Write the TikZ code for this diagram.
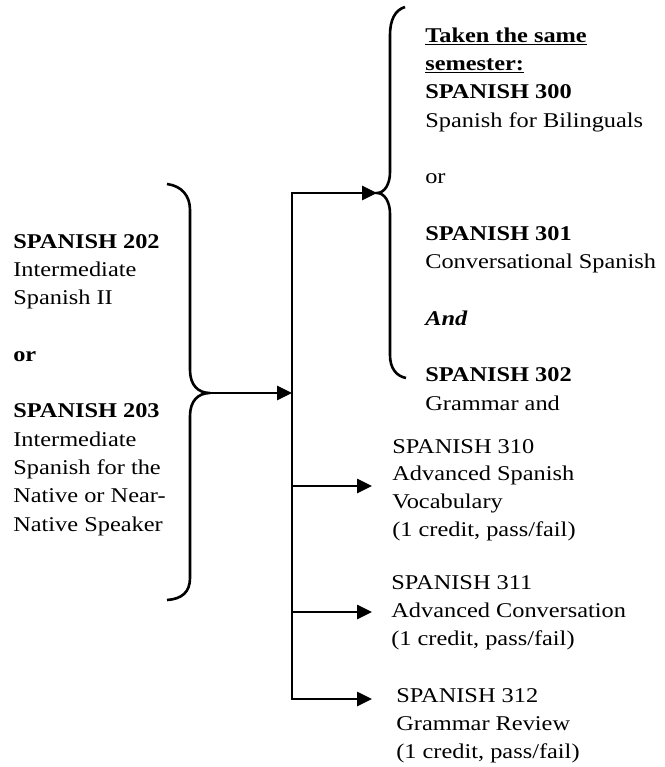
\documentclass[tikz,border=0pt]{standalone}
\usepackage{fontspec}
\setmainfont{Liberation Serif}[FakeStretch=1.16]
\usetikzlibrary{arrows.meta}
\begin{document}
\begin{tikzpicture}
[x=1pt,y=-1pt,line width=2.6pt,
 every node/.style={inner sep=0pt,anchor=base west,align=left},
 big/.style={font=\fontsize{21}{28.3}\selectfont},
 small/.style={font=\fontsize{21}{27.6}\selectfont},
 tip/.style={-{Triangle[length=15pt,width=14pt]}},
 tips/.style={{Triangle[length=15pt,width=14pt]}-{Triangle[length=15pt,width=14pt]}}]
\useasboundingbox (0,0) rectangle (664,767);
% course texts (placed by the baseline of their last line)
\node[big] (inter) at (12,531) {\textbf{SPANISH 202}\\Intermediate\\Spanish II\\[28.3pt]
	\textbf{or}\\[28.3pt]
	\textbf{SPANISH 203}\\Intermediate\\Spanish for the\\Native or Near-\\Native Speaker};
\node[big] (same) at (424,410) {\textbf{\underline{Taken the same}}\\\textbf{\underline{semester:}}\\
	\textbf{SPANISH 300}\\Spanish for Bilinguals\\[28.3pt]
	or\\[28.3pt]
	\textbf{SPANISH 301}\\Conversational Spanish\\[28.3pt]
	\textbf{\textit{And}}\\[28.3pt]
	\textbf{SPANISH 302}\\Grammar and};
\node[small] (c310) at (391,536) {SPANISH 310\\Advanced Spanish\\Vocabulary\\(1 credit, pass/fail)};
\node[small] (c311) at (390,645) {SPANISH 311\\Advanced Conversation\\(1 credit, pass/fail)};
\node[small] (c312) at (395,758) {SPANISH 312\\Grammar Review\\(1 credit, pass/fail)};
% brace tips and spine
\coordinate (lt) at (210,393);
\coordinate (rt) at (377,193);
\coordinate (sp0) at (292,193);
\coordinate (sp1) at (292,393);
\coordinate (sp2) at (292,486);
\coordinate (sp3) at (292,612);
\coordinate (sp4) at (292,699);
\coordinate (a310) at (372,486);
\coordinate (a311) at (372,612);
\coordinate (a312) at (372,699);
% braces
\draw (167,184) .. controls (182,186) and (190,196) .. (190,210) -- (190,370)
	.. controls (190,385) and (198,393) .. (lt)
	.. controls (198,393) and (190,401) .. (190,416) -- (190,578)
	.. controls (190,592) and (182,599) .. (167,600);
\draw (405,7) .. controls (395,10) and (390,20) .. (390,35) -- (390,172)
	.. controls (390,185) and (384,193) .. (rt)
	.. controls (384,193) and (390,201) .. (390,214) -- (390,355)
	.. controls (390,368) and (396,376) .. (406,378);
% connectors
\draw[tips] (a312) -- (sp4) -- (sp0) -- (rt);
\draw[tip] (lt) -- (sp1);
\draw[tip] (sp2) -- (a310);
\draw[tip] (sp3) -- (a311);
\end{tikzpicture}
\end{document}
